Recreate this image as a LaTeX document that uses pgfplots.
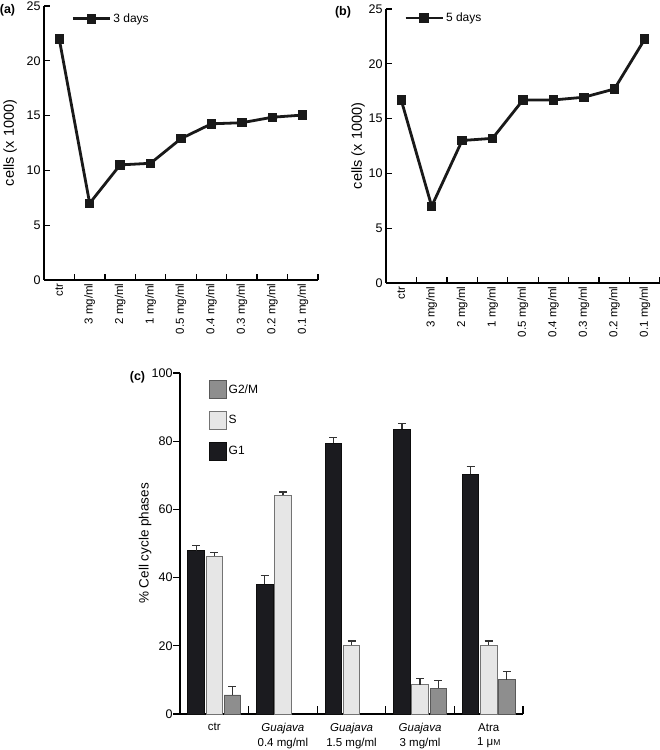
\documentclass[border=0pt]{standalone}
\usepackage{fontspec}
\setmainfont{Liberation Sans}
\usepackage{pgfplots}
\pgfplotsset{compat=1.18}
\definecolor{gone}{HTML}{1B1B1F}
\definecolor{sph}{HTML}{E6E6E6}
\definecolor{gtm}{HTML}{8E8E8E}
\begin{document}
\begin{tikzpicture}[x=1pt,y=1pt]
\useasboundingbox (0,0) rectangle (660,750);
\pgfplotsset{
  common/.style={
    scale only axis,
    axis x line*=bottom, axis y line*=left,
    axis line style={line width=1.3pt, black},
    major x tick style={draw=none},
    major tick length=6pt, minor tick length=6pt,
    tick style={line width=1.3pt, black},
    tick align=inside,
    /pgf/number format/assume math mode=true,
    y tick label style={font=\fontsize{12.5}{14}\selectfont},
    clip=false,
  },
  top/.style={
    common,
    width=274pt, height=274pt,
    xmin=-0.5, xmax=8.5, ymin=0, ymax=25,
    ytick={0,5,...,25},
    xtick={0,...,8},
    xticklabels={ctr,3 mg/ml,2 mg/ml,1 mg/ml,0.5 mg/ml,0.4 mg/ml,0.3 mg/ml,0.2 mg/ml,0.1 mg/ml},
    minor xtick={0.5,1.5,...,8.5},
    x tick label style={rotate=90, anchor=east, font=\fontsize{11.5}{13}\selectfont},
    ylabel={cells (x 1000)},
    legend style={draw=none, fill=none, anchor=west, font=\fontsize{12}{14}\selectfont},
    legend image code/.code={\draw[##1] (0pt,0pt) -- (37pt,0pt); \draw[##1] plot coordinates {(18.5pt,0pt)};},
  },
}
% (a)
\begin{axis}[top, at={(44pt,470pt)}, anchor=south west,
  every axis y label/.style={at={(axis description cs:-0.124,0.5)}, rotate=90, anchor=center, font=\fontsize{14.5}{16}\selectfont},
  legend style={at={(0.089,0.953)}}]
\addplot[line width=2.8pt, color=black!90, mark=square*, mark size=3.3pt, mark options={solid}]
  coordinates {(0,22.0)(1,7.0)(2,10.5)(3,10.65)(4,12.9)(5,14.25)(6,14.35)(7,14.85)(8,15.05)};
\legend{3 days}
\end{axis}
% (b)
\begin{axis}[top, at={(386pt,467pt)}, anchor=south west,
  every axis y label/.style={at={(axis description cs:-0.102,0.5)}, rotate=90, anchor=center, font=\fontsize{14.5}{16}\selectfont},
  legend style={at={(0.055,0.967)}}]
\addplot[line width=2.8pt, color=black!90, mark=square*, mark size=3.3pt, mark options={solid}]
  coordinates {(0,16.7)(1,7.0)(2,13.0)(3,13.2)(4,16.7)(5,16.7)(6,16.95)(7,17.7)(8,22.25)};
\legend{5 days}
\end{axis}
% (c)
\begin{axis}[common, width=343pt, height=341pt, at={(180pt,36pt)}, anchor=south west,
  minor tick length=8pt, major tick length=7pt,
  major y tick style={xshift=-7pt},
  minor x tick style={yshift=8pt},
  y tick label style={xshift=-4pt},
  xmin=-0.5, xmax=4.5, ymin=0, ymax=100,
  ybar, bar width=0.24,
  ytick={0,20,...,100},
  xtick={0,...,4},
  minor xtick={0.5,1.5,...,4.5},
  xticklabels={ctr,{\textit{Guajava}\\0.4 mg/ml},{\textit{Guajava}\\1.5 mg/ml},{\textit{Guajava}\\3 mg/ml},{Atra\\1 μ{\fontsize{8.5}{9}\selectfont M}}},
  x tick label style={align=center, anchor=north, font=\fontsize{11.5}{14.5}\selectfont, yshift=1pt},
  ylabel={\% Cell cycle phases},
  every axis y label/.style={at={(axis description cs:-0.102,0.5)}, rotate=90, anchor=center, font=\fontsize{13.5}{15}\selectfont},
  legend reversed, legend cell align=left,
  legend style={draw=none, fill=none, at={(0.075,0.985)}, anchor=north west, row sep=12pt, font=\fontsize{12}{14}\selectfont},
  legend image code/.code={\draw[#1] (0pt,-9pt) rectangle (17pt,9pt);},
  error bars/y dir=plus, error bars/y explicit,
  error bars/error bar style={line width=1.2pt, color=black!80},
  error bars/error mark options={rotate=90, mark size=4pt, line width=1.2pt, color=black!80},
]
\addplot[bar shift=-0.265, fill=gone, draw=black!95, line width=0.8pt]
  coordinates {(0,47.9) +- (0,1.5) (1,38.0) +- (0,2.7) (2,79.4) +- (0,1.7) (3,83.5) +- (0,1.7) (4,70.3) +- (0,2.2)};
\addplot[bar shift=0, fill=sph, draw=black!55, line width=0.8pt]
  coordinates {(0,46.3) +- (0,1.0) (1,64.1) +- (0,1.0) (2,20.1) +- (0,1.3) (3,8.6) +- (0,1.7) (4,20.1) +- (0,1.3)};
\addplot[bar shift=0.265, fill=gtm, draw=black!65, line width=0.8pt]
  coordinates {(0,5.6) +- (0,2.4) (3,7.5) +- (0,2.4) (4,10.1) +- (0,2.4)};
\legend{G1,S,G2/M}
\end{axis}
\node[font=\bfseries\fontsize{12.5}{14}\selectfont] at (7.5,740) {(a)};
\node[font=\bfseries\fontsize{12.5}{14}\selectfont] at (343,737.5) {(b)};
\node[font=\bfseries\fontsize{12.5}{14}\selectfont] at (137.5,373) {(c)};
\end{tikzpicture}
\end{document}
